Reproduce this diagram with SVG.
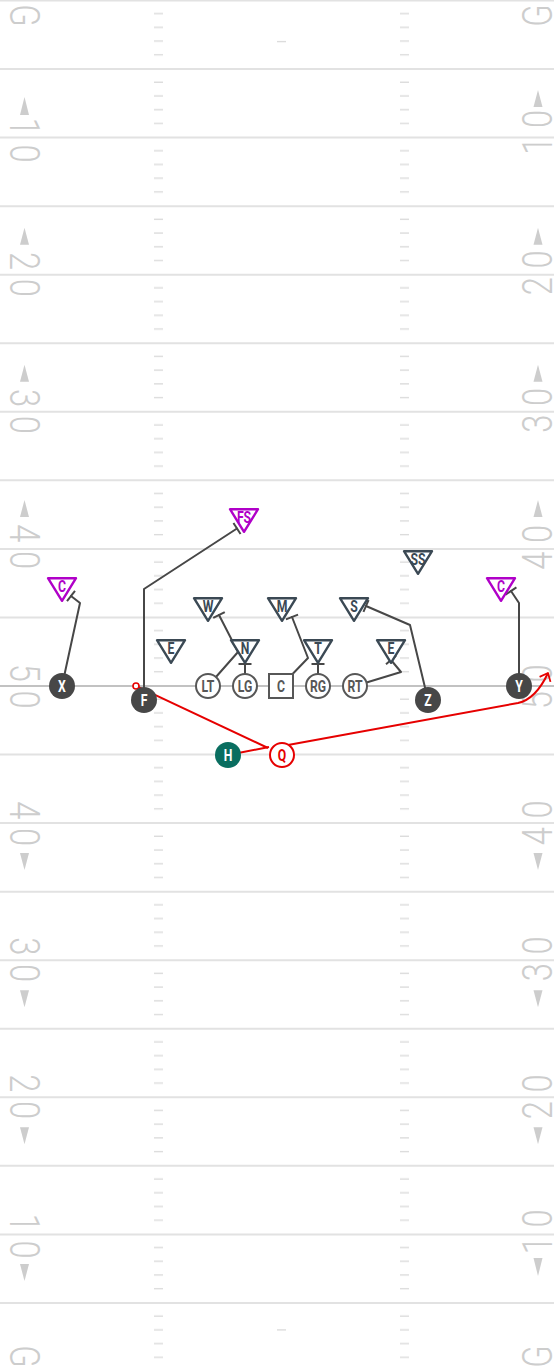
<svg xmlns="http://www.w3.org/2000/svg" width="554" height="1370" viewBox="0 0 554 1370">
<defs>
<style>
.yl{stroke:#e2e2e2;stroke-width:2}
.los{stroke:#c2c2c2;stroke-width:2}
.num{font-family:Roboto,"Liberation Sans",sans-serif;font-weight:300;font-size:42px;fill:#cdcdcd;text-anchor:middle;letter-spacing:11px}
.g{letter-spacing:0}
.arr{fill:#cdcdcd}
.rt{fill:none;stroke:#474747;stroke-width:2;stroke-linejoin:round;stroke-linecap:round}
.red{fill:none;stroke:#e60000;stroke-width:2;stroke-linejoin:round}
.offf{fill:#474747}
.offo{fill:#fff;stroke:#575757;stroke-width:2}
.lbl{font-family:Roboto,"Liberation Sans",sans-serif;font-weight:700;font-size:17px;text-anchor:middle}
.def{fill:#fff;stroke:#3b4954;stroke-width:2.4;stroke-linejoin:round}
.mag{fill:#fff;stroke:#b000c8;stroke-width:2.4;stroke-linejoin:round}
</style>
<pattern id="hash" patternUnits="userSpaceOnUse" x="0" y="0.5" width="554" height="68.55">
<g fill="#dcdcdc">
<rect x="154" y="12.5" width="9" height="1.4"/><rect x="154" y="26.2" width="9" height="1.4"/><rect x="154" y="39.9" width="9" height="1.4"/><rect x="154" y="53.6" width="9" height="1.4"/>
<rect x="400" y="12.5" width="9" height="1.4"/><rect x="400" y="26.2" width="9" height="1.4"/><rect x="400" y="39.9" width="9" height="1.4"/><rect x="400" y="53.6" width="9" height="1.4"/>
</g>
</pattern>
<path id="tri" d="M-14,1.2 L14,1.2 L0,23.8 Z"/>
<marker id="block" markerUnits="userSpaceOnUse" markerWidth="1" markerHeight="1" refX="0" refY="0" orient="auto" overflow="visible">
<path d="M0,-6.5 L0,6.5" stroke="#474747" stroke-width="2" fill="none"/>
</marker>
<marker id="arrow" markerUnits="userSpaceOnUse" markerWidth="1" markerHeight="1" refX="0" refY="0" orient="auto" overflow="visible">
<path d="M-7,-6 L0,0 L-7,6" stroke="#e60000" stroke-width="1.8" fill="none" stroke-linejoin="round"/>
</marker>
</defs>
<rect width="554" height="1370" fill="#fff"/>
<g id="field">
<line class="yl" x1="0" y1="0.5" x2="554" y2="0.5"/>
<line class="yl" x1="0" y1="69.05" x2="554" y2="69.05"/>
<line class="yl" x1="0" y1="137.6" x2="554" y2="137.6"/>
<line class="yl" x1="0" y1="206.15" x2="554" y2="206.15"/>
<line class="yl" x1="0" y1="274.7" x2="554" y2="274.7"/>
<line class="yl" x1="0" y1="343.25" x2="554" y2="343.25"/>
<line class="yl" x1="0" y1="411.8" x2="554" y2="411.8"/>
<line class="yl" x1="0" y1="480.35" x2="554" y2="480.35"/>
<line class="yl" x1="0" y1="548.9" x2="554" y2="548.9"/>
<line class="yl" x1="0" y1="617.45" x2="554" y2="617.45"/>
<line class="los" x1="0" y1="686" x2="554" y2="686"/>
<line class="yl" x1="0" y1="754.55" x2="554" y2="754.55"/>
<line class="yl" x1="0" y1="823.1" x2="554" y2="823.1"/>
<line class="yl" x1="0" y1="891.65" x2="554" y2="891.65"/>
<line class="yl" x1="0" y1="960.2" x2="554" y2="960.2"/>
<line class="yl" x1="0" y1="1028.75" x2="554" y2="1028.75"/>
<line class="yl" x1="0" y1="1097.3" x2="554" y2="1097.3"/>
<line class="yl" x1="0" y1="1165.85" x2="554" y2="1165.85"/>
<line class="yl" x1="0" y1="1234.4" x2="554" y2="1234.4"/>
<line class="yl" x1="0" y1="1302.95" x2="554" y2="1302.95"/>
<rect x="0" y="0" width="554" height="1370" fill="url(#hash)"/>
<rect x="277" y="40.9" width="9" height="1.4" fill="#dcdcdc"/>
<rect x="277" y="1329.2" width="9" height="1.4" fill="#dcdcdc"/>
<text class="num g" transform="translate(10,15.5) rotate(90) scale(0.78,1)">G</text>
<text class="num" transform="translate(10,144.5) rotate(90) scale(0.78,1)">10</text>
<text class="num" transform="translate(10,278.7) rotate(90) scale(0.78,1)">20</text>
<text class="num" transform="translate(10,415.8) rotate(90) scale(0.78,1)">30</text>
<text class="num" transform="translate(10,551) rotate(90) scale(0.78,1)">40</text>
<text class="num" transform="translate(10,690.5) rotate(90) scale(0.78,1)">50</text>
<text class="num" transform="translate(10,828) rotate(90) scale(0.78,1)">40</text>
<text class="num" transform="translate(10,964) rotate(90) scale(0.78,1)">30</text>
<text class="num" transform="translate(10,1101) rotate(90) scale(0.78,1)">20</text>
<text class="num" transform="translate(10,1240.5) rotate(90) scale(0.78,1)">10</text>
<text class="num g" transform="translate(10,1356.5) rotate(90) scale(0.78,1)">G</text>
<text class="num g" transform="translate(552,15.5) rotate(-90) scale(0.78,1)">G</text>
<text class="num" transform="translate(552,128) rotate(-90) scale(0.78,1)">10</text>
<text class="num" transform="translate(552,268.5) rotate(-90) scale(0.78,1)">20</text>
<text class="num" transform="translate(552,406) rotate(-90) scale(0.78,1)">30</text>
<text class="num" transform="translate(552,543) rotate(-90) scale(0.78,1)">40</text>
<text class="num" transform="translate(552,682.5) rotate(-90) scale(0.78,1)">50</text>
<text class="num" transform="translate(552,818.5) rotate(-90) scale(0.78,1)">40</text>
<text class="num" transform="translate(552,954.5) rotate(-90) scale(0.78,1)">30</text>
<text class="num" transform="translate(552,1092.5) rotate(-90) scale(0.78,1)">20</text>
<text class="num" transform="translate(552,1227.5) rotate(-90) scale(0.78,1)">10</text>
<text class="num g" transform="translate(552,1356.5) rotate(-90) scale(0.78,1)">G</text>
<polygon class="arr" points="24.5,97 29,115 20,115"/>
<polygon class="arr" points="24.5,227.7 29,244.7 20,244.7"/>
<polygon class="arr" points="24.5,364.8 29,381.8 20,381.8"/>
<polygon class="arr" points="24.5,500 29,517 20,517"/>
<polygon class="arr" points="20,853.1 29,853.1 24.5,870.1"/>
<polygon class="arr" points="20,990.2 29,990.2 24.5,1007.2"/>
<polygon class="arr" points="20,1127.3 29,1127.3 24.5,1144.3"/>
<polygon class="arr" points="20,1264 29,1264 24.5,1281"/>
<polygon class="arr" points="538,90 542.5,107 533.5,107"/>
<polygon class="arr" points="538,227.7 542.5,244.7 533.5,244.7"/>
<polygon class="arr" points="538,364.8 542.5,381.8 533.5,381.8"/>
<polygon class="arr" points="538,500 542.5,517 533.5,517"/>
<polygon class="arr" points="533.5,853.1 542.5,853.1 538,870.1"/>
<polygon class="arr" points="533.5,990.2 542.5,990.2 538,1007.2"/>
<polygon class="arr" points="533.5,1127.3 542.5,1127.3 538,1144.3"/>
<polygon class="arr" points="533.5,1258 542.5,1258 538,1276"/>
</g>
<g id="connectors">
<path class="rt" d="M62,686 L80,603 L71,596" marker-end="url(#block)"/>
<path class="rt" d="M144,700 L144,589 L237,528.5" marker-end="url(#block)"/>
<path class="rt" d="M208,686 L238,652 L219,615" marker-end="url(#block)"/>
<path class="rt" d="M245,686 L245,664" marker-end="url(#block)"/>
<path class="rt" d="M281,686 L308,658 L292,617" marker-end="url(#block)"/>
<path class="rt" d="M318,686 L318,664" marker-end="url(#block)"/>
<path class="rt" d="M355,686 L401,672 L391,660" marker-end="url(#block)"/>
<path class="rt" d="M428,700 L410,625 L366,606" marker-end="url(#block)"/>
<path class="rt" d="M519,686 L519,603 L511,591" marker-end="url(#block)"/>
<path class="red" d="M268,748 L138.5,687.2"/>
<circle cx="136" cy="686" r="3" fill="#fff" stroke="#e60000" stroke-width="1.6"/>
<path class="red" d="M228,755 L269,747"/>
<path class="red" d="M288,745 L518,703 C532,700 541,688 548,673" marker-end="url(#arrow)"/>
</g>
<g id="X"><circle class="offf" cx="62" cy="686" r="13"/><text class="lbl" fill="#fff" transform="translate(62,692) scale(0.72,1)">X</text></g>
<g id="F"><circle class="offf" cx="144" cy="700" r="13"/><text class="lbl" fill="#fff" transform="translate(144,706) scale(0.72,1)">F</text></g>
<g id="LT"><circle class="offo" cx="208" cy="686" r="12"/><text class="lbl" fill="#575757" transform="translate(208,692) scale(0.72,1)">LT</text></g>
<g id="LG"><circle class="offo" cx="245" cy="686" r="12"/><text class="lbl" fill="#575757" transform="translate(245,692) scale(0.72,1)">LG</text></g>
<g id="C"><rect class="offo" x="269" y="674" width="24" height="24"/><text class="lbl" fill="#575757" transform="translate(281,692) scale(0.72,1)">C</text></g>
<g id="RG"><circle class="offo" cx="318" cy="686" r="12"/><text class="lbl" fill="#575757" transform="translate(318,692) scale(0.72,1)">RG</text></g>
<g id="RT"><circle class="offo" cx="355" cy="686" r="12"/><text class="lbl" fill="#575757" transform="translate(355,692) scale(0.72,1)">RT</text></g>
<g id="Z"><circle class="offf" cx="428" cy="700" r="13"/><text class="lbl" fill="#fff" transform="translate(428,706) scale(0.72,1)">Z</text></g>
<g id="Y"><circle class="offf" cx="519" cy="686" r="13"/><text class="lbl" fill="#fff" transform="translate(519,692) scale(0.72,1)">Y</text></g>
<g id="H"><circle cx="228" cy="755" r="13" fill="#0a6e60"/><text class="lbl" fill="#fff" transform="translate(228,761) scale(0.72,1)">H</text></g>
<g id="Q"><circle cx="282" cy="755" r="12" fill="#fff" stroke="#e60000" stroke-width="2"/><text class="lbl" fill="#e60000" transform="translate(282,761) scale(0.72,1)">Q</text></g>
<g id="CB-left"><use href="#tri" class="mag" transform="translate(62,577)"/><text class="lbl" fill="#b000c8" transform="translate(62,592) scale(0.72,1)">C</text></g>
<g id="FS"><use href="#tri" class="mag" transform="translate(244,508)"/><text class="lbl" fill="#b000c8" transform="translate(244,523) scale(0.72,1)">FS</text></g>
<g id="W"><use href="#tri" class="def" transform="translate(208,597)"/><text class="lbl" fill="#3b4954" transform="translate(208,612) scale(0.72,1)">W</text></g>
<g id="M"><use href="#tri" class="def" transform="translate(282,597)"/><text class="lbl" fill="#3b4954" transform="translate(282,612) scale(0.72,1)">M</text></g>
<g id="S"><use href="#tri" class="def" transform="translate(354,597)"/><text class="lbl" fill="#3b4954" transform="translate(354,612) scale(0.72,1)">S</text></g>
<g id="SS"><use href="#tri" class="def" transform="translate(418,550)"/><text class="lbl" fill="#3b4954" transform="translate(418,565) scale(0.72,1)">SS</text></g>
<g id="CB-right"><use href="#tri" class="mag" transform="translate(501,577)"/><text class="lbl" fill="#b000c8" transform="translate(501,592) scale(0.72,1)">C</text></g>
<g id="E-left"><use href="#tri" class="def" transform="translate(171,639)"/><text class="lbl" fill="#3b4954" transform="translate(171,654) scale(0.72,1)">E</text></g>
<g id="N"><use href="#tri" class="def" transform="translate(245,639)"/><text class="lbl" fill="#3b4954" transform="translate(245,654) scale(0.72,1)">N</text></g>
<g id="T"><use href="#tri" class="def" transform="translate(318,639)"/><text class="lbl" fill="#3b4954" transform="translate(318,654) scale(0.72,1)">T</text></g>
<g id="E-right"><use href="#tri" class="def" transform="translate(391,639)"/><text class="lbl" fill="#3b4954" transform="translate(391,654) scale(0.72,1)">E</text></g>
</svg>
